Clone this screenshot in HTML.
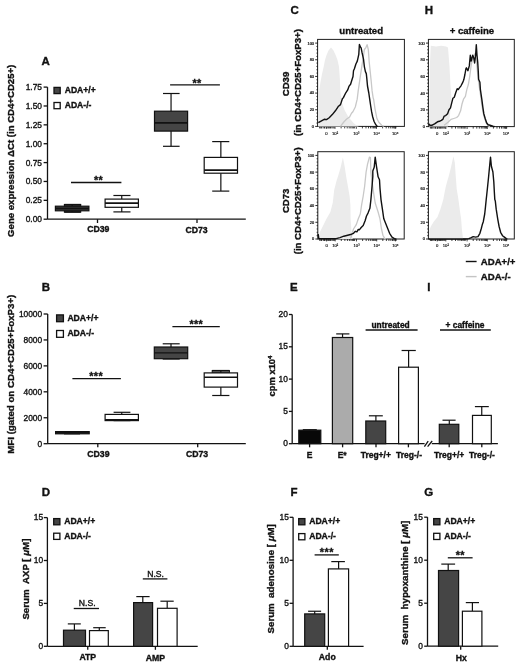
<!DOCTYPE html>
<html><head><meta charset="utf-8"><title>Figure</title>
<style>
html,body{margin:0;padding:0;background:#fff;}
svg{display:block;filter:blur(0.3px);}
text{font-family:"Liberation Sans", sans-serif;white-space:pre;}
</style></head>
<body>
<svg width="520" height="666" viewBox="0 0 520 666">
<rect x="0" y="0" width="520" height="666" fill="#fff"/>
<text x="41.60" y="64.80" font-size="11.5" font-weight="bold" text-anchor="start" fill="#111" stroke="#111" stroke-width="0.35">A</text>
<line x1="47.50" y1="87.10" x2="47.50" y2="219.20" stroke="#121212" stroke-width="1.3"/>
<line x1="43.60" y1="219.20" x2="47.50" y2="219.20" stroke="#121212" stroke-width="1.3"/>
<text x="42.00" y="222.20" font-size="8.4" font-weight="normal" text-anchor="end" fill="#111" stroke="#111" stroke-width="0.35">0.00</text>
<line x1="43.60" y1="200.33" x2="47.50" y2="200.33" stroke="#121212" stroke-width="1.3"/>
<text x="42.00" y="203.33" font-size="8.4" font-weight="normal" text-anchor="end" fill="#111" stroke="#111" stroke-width="0.35">0.25</text>
<line x1="43.60" y1="181.46" x2="47.50" y2="181.46" stroke="#121212" stroke-width="1.3"/>
<text x="42.00" y="184.46" font-size="8.4" font-weight="normal" text-anchor="end" fill="#111" stroke="#111" stroke-width="0.35">0.50</text>
<line x1="43.60" y1="162.59" x2="47.50" y2="162.59" stroke="#121212" stroke-width="1.3"/>
<text x="42.00" y="165.59" font-size="8.4" font-weight="normal" text-anchor="end" fill="#111" stroke="#111" stroke-width="0.35">0.75</text>
<line x1="43.60" y1="143.72" x2="47.50" y2="143.72" stroke="#121212" stroke-width="1.3"/>
<text x="42.00" y="146.72" font-size="8.4" font-weight="normal" text-anchor="end" fill="#111" stroke="#111" stroke-width="0.35">1.00</text>
<line x1="43.60" y1="124.85" x2="47.50" y2="124.85" stroke="#121212" stroke-width="1.3"/>
<text x="42.00" y="127.85" font-size="8.4" font-weight="normal" text-anchor="end" fill="#111" stroke="#111" stroke-width="0.35">1.25</text>
<line x1="43.60" y1="105.98" x2="47.50" y2="105.98" stroke="#121212" stroke-width="1.3"/>
<text x="42.00" y="108.98" font-size="8.4" font-weight="normal" text-anchor="end" fill="#111" stroke="#111" stroke-width="0.35">1.50</text>
<line x1="43.60" y1="87.11" x2="47.50" y2="87.11" stroke="#121212" stroke-width="1.3"/>
<text x="42.00" y="90.11" font-size="8.4" font-weight="normal" text-anchor="end" fill="#111" stroke="#111" stroke-width="0.35">1.75</text>
<line x1="47.50" y1="219.20" x2="245.80" y2="219.20" stroke="#121212" stroke-width="1.3"/>
<line x1="97.50" y1="219.20" x2="97.50" y2="223.00" stroke="#121212" stroke-width="1.3"/>
<line x1="197.00" y1="219.20" x2="197.00" y2="223.00" stroke="#121212" stroke-width="1.3"/>
<text x="98.30" y="232.30" font-size="8.7" font-weight="bold" text-anchor="middle" fill="#111" stroke="#111" stroke-width="0.35">CD39</text>
<text x="196.60" y="232.90" font-size="8.7" font-weight="bold" text-anchor="middle" fill="#111" stroke="#111" stroke-width="0.35">CD73</text>
<rect x="54.00" y="87.40" width="6.20" height="6.20" fill="#454545" stroke="#111" stroke-width="1.3"/>
<rect x="54.00" y="102.50" width="6.20" height="6.20" fill="#fff" stroke="#111" stroke-width="1.3"/>
<text x="64.70" y="92.60" font-size="8.6" font-weight="bold" text-anchor="start" fill="#111" stroke="#111" stroke-width="0.35">ADA+/+</text>
<text x="64.70" y="107.60" font-size="8.6" font-weight="bold" text-anchor="start" fill="#111" stroke="#111" stroke-width="0.35">ADA-/-</text>
<text x="13.80" y="150.80" font-size="9.6" font-weight="bold" text-anchor="middle" fill="#111" stroke="#111" stroke-width="0.35" transform="rotate(-90 13.80 150.80)">Gene expression ΔCt (in CD4+CD25+)</text>
<rect x="64.40" y="204.50" width="16.30" height="7.60" fill="#3a3a3a" stroke="#111" stroke-width="1.1"/>
<line x1="72.15" y1="204.50" x2="72.15" y2="206.20" stroke="#121212" stroke-width="1.2"/>
<line x1="72.15" y1="210.80" x2="72.15" y2="212.10" stroke="#121212" stroke-width="1.2"/>
<line x1="64.40" y1="204.50" x2="80.70" y2="204.50" stroke="#121212" stroke-width="1.2"/>
<line x1="64.40" y1="212.10" x2="80.70" y2="212.10" stroke="#121212" stroke-width="1.2"/>
<rect x="55.40" y="206.20" width="33.50" height="4.60" fill="#454545" stroke="#111" stroke-width="1.2"/>
<line x1="55.40" y1="208.50" x2="88.90" y2="208.50" stroke="#121212" stroke-width="1.8"/>
<line x1="121.75" y1="195.50" x2="121.75" y2="199.10" stroke="#121212" stroke-width="1.2"/>
<line x1="121.75" y1="207.30" x2="121.75" y2="211.90" stroke="#121212" stroke-width="1.2"/>
<line x1="113.40" y1="195.50" x2="130.50" y2="195.50" stroke="#121212" stroke-width="1.2"/>
<line x1="113.40" y1="211.90" x2="130.50" y2="211.90" stroke="#121212" stroke-width="1.2"/>
<rect x="105.10" y="199.10" width="33.30" height="8.20" fill="#fff" stroke="#111" stroke-width="1.2"/>
<line x1="105.10" y1="203.10" x2="138.40" y2="203.10" stroke="#121212" stroke-width="1.8"/>
<line x1="171.05" y1="93.50" x2="171.05" y2="111.20" stroke="#121212" stroke-width="1.2"/>
<line x1="171.05" y1="131.10" x2="171.05" y2="146.30" stroke="#121212" stroke-width="1.2"/>
<line x1="163.00" y1="93.50" x2="179.60" y2="93.50" stroke="#121212" stroke-width="1.2"/>
<line x1="163.00" y1="146.30" x2="179.60" y2="146.30" stroke="#121212" stroke-width="1.2"/>
<rect x="154.50" y="111.20" width="33.10" height="19.90" fill="#454545" stroke="#111" stroke-width="1.2"/>
<line x1="154.50" y1="122.90" x2="187.60" y2="122.90" stroke="#121212" stroke-width="1.8"/>
<line x1="220.85" y1="141.60" x2="220.85" y2="157.40" stroke="#121212" stroke-width="1.2"/>
<line x1="220.85" y1="173.20" x2="220.85" y2="191.10" stroke="#121212" stroke-width="1.2"/>
<line x1="212.20" y1="141.60" x2="229.30" y2="141.60" stroke="#121212" stroke-width="1.2"/>
<line x1="212.20" y1="191.10" x2="229.30" y2="191.10" stroke="#121212" stroke-width="1.2"/>
<rect x="204.20" y="157.40" width="33.30" height="15.80" fill="#fff" stroke="#111" stroke-width="1.2"/>
<line x1="204.20" y1="170.10" x2="237.50" y2="170.10" stroke="#121212" stroke-width="1.8"/>
<line x1="71.00" y1="182.50" x2="121.40" y2="182.50" stroke="#121212" stroke-width="1.3"/>
<text x="96.10" y="184.41" font-size="10.8" font-weight="bold" text-anchor="middle" fill="#111" stroke="#111" stroke-width="0.35">*</text>
<text x="100.60" y="184.41" font-size="10.8" font-weight="bold" text-anchor="middle" fill="#111" stroke="#111" stroke-width="0.35">*</text>
<line x1="170.10" y1="84.80" x2="219.90" y2="84.80" stroke="#121212" stroke-width="1.3"/>
<text x="194.70" y="86.51" font-size="10.8" font-weight="bold" text-anchor="middle" fill="#111" stroke="#111" stroke-width="0.35">*</text>
<text x="199.10" y="86.51" font-size="10.8" font-weight="bold" text-anchor="middle" fill="#111" stroke="#111" stroke-width="0.35">*</text>
<text x="41.80" y="290.90" font-size="11.5" font-weight="bold" text-anchor="start" fill="#111" stroke="#111" stroke-width="0.35">B</text>
<line x1="47.70" y1="314.00" x2="47.70" y2="443.70" stroke="#121212" stroke-width="1.3"/>
<line x1="43.60" y1="443.70" x2="47.70" y2="443.70" stroke="#121212" stroke-width="1.3"/>
<text x="42.20" y="446.70" font-size="8.4" font-weight="normal" text-anchor="end" fill="#111" stroke="#111" stroke-width="0.35">0</text>
<line x1="43.60" y1="417.76" x2="47.70" y2="417.76" stroke="#121212" stroke-width="1.3"/>
<text x="42.20" y="420.76" font-size="8.4" font-weight="normal" text-anchor="end" fill="#111" stroke="#111" stroke-width="0.35">2000</text>
<line x1="43.60" y1="391.82" x2="47.70" y2="391.82" stroke="#121212" stroke-width="1.3"/>
<text x="42.20" y="394.82" font-size="8.4" font-weight="normal" text-anchor="end" fill="#111" stroke="#111" stroke-width="0.35">4000</text>
<line x1="43.60" y1="365.88" x2="47.70" y2="365.88" stroke="#121212" stroke-width="1.3"/>
<text x="42.20" y="368.88" font-size="8.4" font-weight="normal" text-anchor="end" fill="#111" stroke="#111" stroke-width="0.35">6000</text>
<line x1="43.60" y1="339.94" x2="47.70" y2="339.94" stroke="#121212" stroke-width="1.3"/>
<text x="42.20" y="342.94" font-size="8.4" font-weight="normal" text-anchor="end" fill="#111" stroke="#111" stroke-width="0.35">8000</text>
<line x1="43.60" y1="314.00" x2="47.70" y2="314.00" stroke="#121212" stroke-width="1.3"/>
<text x="42.20" y="317.00" font-size="8.4" font-weight="normal" text-anchor="end" fill="#111" stroke="#111" stroke-width="0.35">10000</text>
<line x1="47.70" y1="443.70" x2="245.80" y2="443.70" stroke="#121212" stroke-width="1.3"/>
<line x1="97.80" y1="443.70" x2="97.80" y2="447.30" stroke="#121212" stroke-width="1.3"/>
<line x1="197.70" y1="443.70" x2="197.70" y2="447.30" stroke="#121212" stroke-width="1.3"/>
<text x="98.40" y="456.80" font-size="8.7" font-weight="bold" text-anchor="middle" fill="#111" stroke="#111" stroke-width="0.35">CD39</text>
<text x="197.00" y="456.70" font-size="8.7" font-weight="bold" text-anchor="middle" fill="#111" stroke="#111" stroke-width="0.35">CD73</text>
<rect x="56.60" y="314.90" width="6.80" height="6.80" fill="#454545" stroke="#111" stroke-width="1.3"/>
<rect x="56.60" y="330.50" width="6.80" height="6.80" fill="#fff" stroke="#111" stroke-width="1.3"/>
<text x="67.40" y="320.60" font-size="8.6" font-weight="bold" text-anchor="start" fill="#111" stroke="#111" stroke-width="0.35">ADA+/+</text>
<text x="67.40" y="336.00" font-size="8.6" font-weight="bold" text-anchor="start" fill="#111" stroke="#111" stroke-width="0.35">ADA-/-</text>
<text x="13.60" y="374.20" font-size="9.7" font-weight="bold" text-anchor="middle" fill="#111" stroke="#111" stroke-width="0.35" transform="rotate(-90 13.60 374.20)">MFI (gated on CD4+CD25+FoxP3+)</text>
<line x1="72.40" y1="431.60" x2="72.40" y2="431.60" stroke="#121212" stroke-width="1.2"/>
<line x1="72.40" y1="433.80" x2="72.40" y2="433.80" stroke="#121212" stroke-width="1.2"/>
<line x1="64.00" y1="431.60" x2="80.00" y2="431.60" stroke="#121212" stroke-width="1.2"/>
<line x1="64.00" y1="433.80" x2="80.00" y2="433.80" stroke="#121212" stroke-width="1.2"/>
<rect x="55.60" y="431.60" width="33.60" height="2.20" fill="#454545" stroke="#111" stroke-width="1.2"/>
<line x1="55.60" y1="432.70" x2="89.20" y2="432.70" stroke="#121212" stroke-width="1.8"/>
<line x1="121.75" y1="412.30" x2="121.75" y2="414.40" stroke="#121212" stroke-width="1.2"/>
<line x1="121.75" y1="420.60" x2="121.75" y2="420.60" stroke="#121212" stroke-width="1.2"/>
<line x1="113.60" y1="412.30" x2="130.40" y2="412.30" stroke="#121212" stroke-width="1.2"/>
<line x1="113.60" y1="420.60" x2="130.40" y2="420.60" stroke="#121212" stroke-width="1.2"/>
<rect x="105.10" y="414.40" width="33.30" height="6.20" fill="#fff" stroke="#111" stroke-width="1.2"/>
<line x1="105.10" y1="420.00" x2="138.40" y2="420.00" stroke="#121212" stroke-width="1.8"/>
<line x1="171.00" y1="343.80" x2="171.00" y2="347.00" stroke="#121212" stroke-width="1.2"/>
<line x1="171.00" y1="358.70" x2="171.00" y2="359.00" stroke="#121212" stroke-width="1.2"/>
<line x1="162.70" y1="343.80" x2="179.70" y2="343.80" stroke="#121212" stroke-width="1.2"/>
<line x1="162.70" y1="359.00" x2="179.70" y2="359.00" stroke="#121212" stroke-width="1.2"/>
<rect x="154.30" y="347.00" width="33.40" height="11.70" fill="#454545" stroke="#111" stroke-width="1.2"/>
<line x1="154.30" y1="352.80" x2="187.70" y2="352.80" stroke="#121212" stroke-width="1.2"/>
<rect x="212.20" y="370.60" width="17.20" height="2.40" fill="#666" stroke="#111" stroke-width="1.0"/>
<line x1="220.85" y1="370.50" x2="220.85" y2="372.90" stroke="#121212" stroke-width="1.2"/>
<line x1="220.85" y1="387.10" x2="220.85" y2="395.50" stroke="#121212" stroke-width="1.2"/>
<line x1="212.20" y1="370.50" x2="229.40" y2="370.50" stroke="#121212" stroke-width="1.2"/>
<line x1="212.20" y1="395.50" x2="229.40" y2="395.50" stroke="#121212" stroke-width="1.2"/>
<rect x="204.20" y="372.90" width="33.30" height="14.20" fill="#fff" stroke="#111" stroke-width="1.2"/>
<line x1="204.20" y1="377.30" x2="237.50" y2="377.30" stroke="#121212" stroke-width="1.4"/>
<line x1="72.40" y1="378.70" x2="120.90" y2="378.70" stroke="#121212" stroke-width="1.3"/>
<text x="91.30" y="380.41" font-size="10.8" font-weight="bold" text-anchor="middle" fill="#111" stroke="#111" stroke-width="0.35">*</text>
<text x="95.90" y="380.41" font-size="10.8" font-weight="bold" text-anchor="middle" fill="#111" stroke="#111" stroke-width="0.35">*</text>
<text x="100.50" y="380.41" font-size="10.8" font-weight="bold" text-anchor="middle" fill="#111" stroke="#111" stroke-width="0.35">*</text>
<line x1="172.40" y1="326.70" x2="219.80" y2="326.70" stroke="#121212" stroke-width="1.3"/>
<text x="191.60" y="327.51" font-size="10.8" font-weight="bold" text-anchor="middle" fill="#111" stroke="#111" stroke-width="0.35">*</text>
<text x="196.10" y="327.51" font-size="10.8" font-weight="bold" text-anchor="middle" fill="#111" stroke="#111" stroke-width="0.35">*</text>
<text x="200.60" y="327.51" font-size="10.8" font-weight="bold" text-anchor="middle" fill="#111" stroke="#111" stroke-width="0.35">*</text>
<text x="41.80" y="496.00" font-size="11.5" font-weight="bold" text-anchor="start" fill="#111" stroke="#111" stroke-width="0.35">D</text>
<line x1="47.40" y1="517.60" x2="47.40" y2="646.30" stroke="#121212" stroke-width="1.3"/>
<line x1="43.80" y1="646.30" x2="47.40" y2="646.30" stroke="#121212" stroke-width="1.3"/>
<text x="43.20" y="648.80" font-size="8.4" font-weight="normal" text-anchor="end" fill="#111" stroke="#111" stroke-width="0.35">0</text>
<line x1="43.80" y1="603.40" x2="47.40" y2="603.40" stroke="#121212" stroke-width="1.3"/>
<text x="43.20" y="605.90" font-size="8.4" font-weight="normal" text-anchor="end" fill="#111" stroke="#111" stroke-width="0.35">5</text>
<line x1="43.80" y1="560.50" x2="47.40" y2="560.50" stroke="#121212" stroke-width="1.3"/>
<text x="43.20" y="563.00" font-size="8.4" font-weight="normal" text-anchor="end" fill="#111" stroke="#111" stroke-width="0.35">10</text>
<line x1="43.80" y1="517.60" x2="47.40" y2="517.60" stroke="#121212" stroke-width="1.3"/>
<text x="43.20" y="520.10" font-size="8.4" font-weight="normal" text-anchor="end" fill="#111" stroke="#111" stroke-width="0.35">15</text>
<line x1="47.40" y1="646.30" x2="197.70" y2="646.30" stroke="#121212" stroke-width="1.3"/>
<line x1="87.75" y1="646.30" x2="87.75" y2="649.80" stroke="#121212" stroke-width="1.3"/>
<line x1="155.40" y1="646.30" x2="155.40" y2="649.80" stroke="#121212" stroke-width="1.3"/>
<text x="87.80" y="660.20" font-size="8.7" font-weight="bold" text-anchor="middle" fill="#111" stroke="#111" stroke-width="0.35">ATP</text>
<text x="155.50" y="660.50" font-size="8.7" font-weight="bold" text-anchor="middle" fill="#111" stroke="#111" stroke-width="0.35">AMP</text>
<rect x="53.70" y="518.60" width="6.20" height="6.20" fill="#454545" stroke="#111" stroke-width="1.3"/>
<rect x="53.70" y="533.20" width="6.20" height="6.20" fill="#fff" stroke="#111" stroke-width="1.3"/>
<text x="64.20" y="523.90" font-size="8.6" font-weight="bold" text-anchor="start" fill="#111" stroke="#111" stroke-width="0.35">ADA+/+</text>
<text x="64.20" y="538.90" font-size="8.6" font-weight="bold" text-anchor="start" fill="#111" stroke="#111" stroke-width="0.35">ADA-/-</text>
<text x="28.80" y="579.10" font-size="9.7" font-weight="bold" text-anchor="middle" fill="#111" stroke="#111" stroke-width="0.35" transform="rotate(-90 28.80 579.10)">Serum  AXP [ <tspan font-style="italic">μ</tspan>M]</text>
<line x1="74.40" y1="623.90" x2="74.40" y2="630.20" stroke="#121212" stroke-width="1.2"/>
<line x1="67.80" y1="623.90" x2="80.80" y2="623.90" stroke="#121212" stroke-width="1.2"/>
<rect x="63.50" y="630.20" width="22.00" height="16.10" fill="#454545" stroke="#111" stroke-width="1.2"/>
<line x1="99.30" y1="627.70" x2="99.30" y2="630.60" stroke="#121212" stroke-width="1.2"/>
<line x1="93.20" y1="627.70" x2="105.70" y2="627.70" stroke="#121212" stroke-width="1.2"/>
<rect x="89.50" y="630.60" width="18.80" height="15.70" fill="#fff" stroke="#111" stroke-width="1.2"/>
<line x1="142.80" y1="596.60" x2="142.80" y2="602.60" stroke="#121212" stroke-width="1.2"/>
<line x1="136.30" y1="596.60" x2="149.60" y2="596.60" stroke="#121212" stroke-width="1.2"/>
<rect x="133.60" y="602.60" width="19.00" height="43.70" fill="#454545" stroke="#111" stroke-width="1.2"/>
<line x1="167.20" y1="601.20" x2="167.20" y2="608.30" stroke="#121212" stroke-width="1.2"/>
<line x1="160.40" y1="601.20" x2="173.70" y2="601.20" stroke="#121212" stroke-width="1.2"/>
<rect x="157.50" y="608.30" width="19.60" height="38.00" fill="#fff" stroke="#111" stroke-width="1.2"/>
<line x1="73.75" y1="608.50" x2="99.00" y2="608.50" stroke="#121212" stroke-width="1.3"/>
<text x="87.20" y="606.30" font-size="8.6" font-weight="normal" text-anchor="middle" fill="#111" stroke="#111" stroke-width="0.35">N.S.</text>
<line x1="142.80" y1="578.90" x2="167.40" y2="578.90" stroke="#121212" stroke-width="1.3"/>
<text x="155.60" y="576.60" font-size="8.6" font-weight="normal" text-anchor="middle" fill="#111" stroke="#111" stroke-width="0.35">N.S.</text>
<text x="290.40" y="496.10" font-size="11.5" font-weight="bold" text-anchor="start" fill="#111" stroke="#111" stroke-width="0.35">F</text>
<line x1="293.10" y1="517.20" x2="293.10" y2="646.30" stroke="#121212" stroke-width="1.3"/>
<line x1="289.60" y1="646.30" x2="293.10" y2="646.30" stroke="#121212" stroke-width="1.3"/>
<text x="288.80" y="648.80" font-size="8.4" font-weight="normal" text-anchor="end" fill="#111" stroke="#111" stroke-width="0.35">0</text>
<line x1="289.60" y1="603.30" x2="293.10" y2="603.30" stroke="#121212" stroke-width="1.3"/>
<text x="288.80" y="605.80" font-size="8.4" font-weight="normal" text-anchor="end" fill="#111" stroke="#111" stroke-width="0.35">5</text>
<line x1="289.60" y1="560.30" x2="293.10" y2="560.30" stroke="#121212" stroke-width="1.3"/>
<text x="288.80" y="562.80" font-size="8.4" font-weight="normal" text-anchor="end" fill="#111" stroke="#111" stroke-width="0.35">10</text>
<line x1="289.60" y1="517.30" x2="293.10" y2="517.30" stroke="#121212" stroke-width="1.3"/>
<text x="288.80" y="519.80" font-size="8.4" font-weight="normal" text-anchor="end" fill="#111" stroke="#111" stroke-width="0.35">15</text>
<line x1="293.10" y1="646.30" x2="363.60" y2="646.30" stroke="#121212" stroke-width="1.3"/>
<line x1="327.30" y1="646.30" x2="327.30" y2="649.80" stroke="#121212" stroke-width="1.3"/>
<text x="327.30" y="660.30" font-size="8.7" font-weight="bold" text-anchor="middle" fill="#111" stroke="#111" stroke-width="0.35">Ado</text>
<rect x="298.70" y="518.60" width="6.20" height="6.20" fill="#454545" stroke="#111" stroke-width="1.3"/>
<rect x="298.70" y="533.60" width="6.20" height="6.20" fill="#fff" stroke="#111" stroke-width="1.3"/>
<text x="309.20" y="524.00" font-size="8.6" font-weight="bold" text-anchor="start" fill="#111" stroke="#111" stroke-width="0.35">ADA+/+</text>
<text x="309.20" y="538.90" font-size="8.6" font-weight="bold" text-anchor="start" fill="#111" stroke="#111" stroke-width="0.35">ADA-/-</text>
<text x="273.60" y="578.80" font-size="9.7" font-weight="bold" text-anchor="middle" fill="#111" stroke="#111" stroke-width="0.35" transform="rotate(-90 273.60 578.80)">Serum  adenosine [ <tspan font-style="italic">μ</tspan>M]</text>
<line x1="314.70" y1="611.25" x2="314.70" y2="613.90" stroke="#121212" stroke-width="1.2"/>
<line x1="308.10" y1="611.25" x2="321.10" y2="611.25" stroke="#121212" stroke-width="1.2"/>
<rect x="304.70" y="613.90" width="20.00" height="32.40" fill="#454545" stroke="#111" stroke-width="1.2"/>
<line x1="338.60" y1="561.60" x2="338.60" y2="568.90" stroke="#121212" stroke-width="1.2"/>
<line x1="331.30" y1="561.60" x2="344.90" y2="561.60" stroke="#121212" stroke-width="1.2"/>
<rect x="328.40" y="568.90" width="20.20" height="77.40" fill="#fff" stroke="#111" stroke-width="1.2"/>
<line x1="314.60" y1="554.90" x2="338.80" y2="554.90" stroke="#121212" stroke-width="1.3"/>
<text x="321.80" y="556.11" font-size="10.8" font-weight="bold" text-anchor="middle" fill="#111" stroke="#111" stroke-width="0.35">*</text>
<text x="326.50" y="556.11" font-size="10.8" font-weight="bold" text-anchor="middle" fill="#111" stroke="#111" stroke-width="0.35">*</text>
<text x="331.30" y="556.11" font-size="10.8" font-weight="bold" text-anchor="middle" fill="#111" stroke="#111" stroke-width="0.35">*</text>
<text x="424.20" y="496.40" font-size="11.5" font-weight="bold" text-anchor="start" fill="#111" stroke="#111" stroke-width="0.35">G</text>
<line x1="427.50" y1="517.10" x2="427.50" y2="646.20" stroke="#121212" stroke-width="1.3"/>
<line x1="424.20" y1="646.20" x2="427.50" y2="646.20" stroke="#121212" stroke-width="1.3"/>
<text x="422.90" y="648.70" font-size="8.4" font-weight="normal" text-anchor="end" fill="#111" stroke="#111" stroke-width="0.35">0</text>
<line x1="424.20" y1="603.20" x2="427.50" y2="603.20" stroke="#121212" stroke-width="1.3"/>
<text x="422.90" y="605.70" font-size="8.4" font-weight="normal" text-anchor="end" fill="#111" stroke="#111" stroke-width="0.35">5</text>
<line x1="424.20" y1="560.20" x2="427.50" y2="560.20" stroke="#121212" stroke-width="1.3"/>
<text x="422.90" y="562.70" font-size="8.4" font-weight="normal" text-anchor="end" fill="#111" stroke="#111" stroke-width="0.35">10</text>
<line x1="424.20" y1="517.20" x2="427.50" y2="517.20" stroke="#121212" stroke-width="1.3"/>
<text x="422.90" y="519.70" font-size="8.4" font-weight="normal" text-anchor="end" fill="#111" stroke="#111" stroke-width="0.35">15</text>
<line x1="427.50" y1="646.20" x2="498.20" y2="646.20" stroke="#121212" stroke-width="1.3"/>
<line x1="460.70" y1="646.20" x2="460.70" y2="649.80" stroke="#121212" stroke-width="1.3"/>
<text x="461.30" y="660.50" font-size="8.7" font-weight="bold" text-anchor="middle" fill="#111" stroke="#111" stroke-width="0.35">Hx</text>
<rect x="433.70" y="518.60" width="6.20" height="6.20" fill="#454545" stroke="#111" stroke-width="1.3"/>
<rect x="433.70" y="533.30" width="6.20" height="6.20" fill="#fff" stroke="#111" stroke-width="1.3"/>
<text x="444.20" y="523.90" font-size="8.6" font-weight="bold" text-anchor="start" fill="#111" stroke="#111" stroke-width="0.35">ADA+/+</text>
<text x="444.20" y="538.90" font-size="8.6" font-weight="bold" text-anchor="start" fill="#111" stroke="#111" stroke-width="0.35">ADA-/-</text>
<text x="408.30" y="582.80" font-size="9.7" font-weight="bold" text-anchor="middle" fill="#111" stroke="#111" stroke-width="0.35" transform="rotate(-90 408.30 582.80)">Serum  hypoxanthine [ <tspan font-style="italic">μ</tspan>M]</text>
<line x1="448.20" y1="564.10" x2="448.20" y2="570.50" stroke="#121212" stroke-width="1.2"/>
<line x1="441.30" y1="564.10" x2="455.10" y2="564.10" stroke="#121212" stroke-width="1.2"/>
<rect x="438.50" y="570.50" width="20.10" height="75.70" fill="#454545" stroke="#111" stroke-width="1.2"/>
<line x1="472.40" y1="602.60" x2="472.40" y2="611.20" stroke="#121212" stroke-width="1.2"/>
<line x1="465.80" y1="602.60" x2="479.00" y2="602.60" stroke="#121212" stroke-width="1.2"/>
<rect x="462.40" y="611.20" width="19.50" height="35.00" fill="#fff" stroke="#111" stroke-width="1.2"/>
<line x1="447.80" y1="557.80" x2="472.60" y2="557.80" stroke="#121212" stroke-width="1.3"/>
<text x="457.80" y="559.01" font-size="10.8" font-weight="bold" text-anchor="middle" fill="#111" stroke="#111" stroke-width="0.35">*</text>
<text x="462.30" y="559.01" font-size="10.8" font-weight="bold" text-anchor="middle" fill="#111" stroke="#111" stroke-width="0.35">*</text>
<text x="290.00" y="291.40" font-size="11.5" font-weight="bold" text-anchor="start" fill="#111" stroke="#111" stroke-width="0.35">E</text>
<text x="427.30" y="291.20" font-size="11.5" font-weight="bold" text-anchor="start" fill="#111" stroke="#111" stroke-width="0.35">I</text>
<line x1="292.20" y1="314.50" x2="292.20" y2="443.70" stroke="#121212" stroke-width="1.3"/>
<line x1="288.90" y1="443.70" x2="292.20" y2="443.70" stroke="#121212" stroke-width="1.3"/>
<text x="287.80" y="446.30" font-size="8.4" font-weight="normal" text-anchor="end" fill="#111" stroke="#111" stroke-width="0.35">0</text>
<line x1="288.90" y1="411.40" x2="292.20" y2="411.40" stroke="#121212" stroke-width="1.3"/>
<text x="287.80" y="414.00" font-size="8.4" font-weight="normal" text-anchor="end" fill="#111" stroke="#111" stroke-width="0.35">5</text>
<line x1="288.90" y1="379.10" x2="292.20" y2="379.10" stroke="#121212" stroke-width="1.3"/>
<text x="287.80" y="381.70" font-size="8.4" font-weight="normal" text-anchor="end" fill="#111" stroke="#111" stroke-width="0.35">10</text>
<line x1="288.90" y1="346.80" x2="292.20" y2="346.80" stroke="#121212" stroke-width="1.3"/>
<text x="287.80" y="349.40" font-size="8.4" font-weight="normal" text-anchor="end" fill="#111" stroke="#111" stroke-width="0.35">15</text>
<line x1="288.90" y1="314.50" x2="292.20" y2="314.50" stroke="#121212" stroke-width="1.3"/>
<text x="287.80" y="317.10" font-size="8.4" font-weight="normal" text-anchor="end" fill="#111" stroke="#111" stroke-width="0.35">20</text>
<line x1="292.20" y1="443.70" x2="424.60" y2="443.70" stroke="#121212" stroke-width="1.3"/>
<line x1="431.80" y1="443.70" x2="497.90" y2="443.70" stroke="#121212" stroke-width="1.3"/>
<line x1="424.40" y1="446.60" x2="428.20" y2="441.20" stroke="#121212" stroke-width="1.3"/>
<line x1="427.60" y1="446.60" x2="432.20" y2="441.00" stroke="#121212" stroke-width="1.3"/>
<line x1="309.60" y1="443.70" x2="309.60" y2="447.30" stroke="#121212" stroke-width="1.3"/>
<line x1="342.60" y1="443.70" x2="342.60" y2="447.30" stroke="#121212" stroke-width="1.3"/>
<line x1="376.00" y1="443.70" x2="376.00" y2="447.30" stroke="#121212" stroke-width="1.3"/>
<line x1="408.40" y1="443.70" x2="408.40" y2="447.30" stroke="#121212" stroke-width="1.3"/>
<line x1="449.20" y1="443.70" x2="449.20" y2="447.30" stroke="#121212" stroke-width="1.3"/>
<line x1="481.80" y1="443.70" x2="481.80" y2="447.30" stroke="#121212" stroke-width="1.3"/>
<text x="309.60" y="458.30" font-size="8.5" font-weight="bold" text-anchor="middle" fill="#111" stroke="#111" stroke-width="0.35">E</text>
<text x="342.20" y="458.30" font-size="8.5" font-weight="bold" text-anchor="middle" fill="#111" stroke="#111" stroke-width="0.35">E*</text>
<text x="375.80" y="458.30" font-size="8.5" font-weight="bold" text-anchor="middle" fill="#111" stroke="#111" stroke-width="0.35">Treg+/+</text>
<text x="409.00" y="458.30" font-size="8.5" font-weight="bold" text-anchor="middle" fill="#111" stroke="#111" stroke-width="0.35">Treg-/-</text>
<text x="449.20" y="458.30" font-size="8.5" font-weight="bold" text-anchor="middle" fill="#111" stroke="#111" stroke-width="0.35">Treg+/+</text>
<text x="481.90" y="458.30" font-size="8.5" font-weight="bold" text-anchor="middle" fill="#111" stroke="#111" stroke-width="0.35">Treg-/-</text>
<line x1="309.80" y1="429.70" x2="309.80" y2="430.20" stroke="#121212" stroke-width="1.2"/>
<line x1="302.80" y1="429.70" x2="316.80" y2="429.70" stroke="#121212" stroke-width="1.2"/>
<rect x="298.80" y="430.20" width="22.00" height="13.50" fill="#080808" stroke="#111" stroke-width="1.2"/>
<line x1="342.55" y1="333.90" x2="342.55" y2="337.50" stroke="#121212" stroke-width="1.2"/>
<line x1="336.20" y1="333.90" x2="349.40" y2="333.90" stroke="#121212" stroke-width="1.2"/>
<rect x="332.40" y="337.50" width="20.30" height="106.20" fill="#ababab" stroke="#111" stroke-width="1.2"/>
<line x1="375.90" y1="415.80" x2="375.90" y2="421.00" stroke="#121212" stroke-width="1.2"/>
<line x1="368.90" y1="415.80" x2="382.80" y2="415.80" stroke="#121212" stroke-width="1.2"/>
<rect x="365.80" y="421.00" width="19.90" height="22.70" fill="#454545" stroke="#111" stroke-width="1.2"/>
<line x1="408.60" y1="350.50" x2="408.60" y2="367.20" stroke="#121212" stroke-width="1.2"/>
<line x1="401.60" y1="350.50" x2="415.80" y2="350.50" stroke="#121212" stroke-width="1.2"/>
<rect x="398.60" y="367.20" width="19.80" height="76.50" fill="#fff" stroke="#111" stroke-width="1.2"/>
<line x1="449.30" y1="420.20" x2="449.30" y2="424.30" stroke="#121212" stroke-width="1.2"/>
<line x1="442.50" y1="420.20" x2="455.60" y2="420.20" stroke="#121212" stroke-width="1.2"/>
<rect x="439.30" y="424.30" width="19.50" height="19.40" fill="#454545" stroke="#111" stroke-width="1.2"/>
<line x1="481.75" y1="406.60" x2="481.75" y2="415.40" stroke="#121212" stroke-width="1.2"/>
<line x1="474.90" y1="406.60" x2="488.80" y2="406.60" stroke="#121212" stroke-width="1.2"/>
<rect x="472.50" y="415.40" width="18.80" height="28.30" fill="#fff" stroke="#111" stroke-width="1.2"/>
<text x="390.60" y="327.50" font-size="8.4" font-weight="bold" text-anchor="middle" fill="#111" stroke="#111" stroke-width="0.35">untreated</text>
<line x1="365.60" y1="330.00" x2="417.60" y2="330.00" stroke="#121212" stroke-width="1.3"/>
<text x="465.00" y="327.50" font-size="8.4" font-weight="bold" text-anchor="middle" fill="#111" stroke="#111" stroke-width="0.35">+ caffeine</text>
<line x1="440.00" y1="330.00" x2="490.80" y2="330.00" stroke="#121212" stroke-width="1.3"/>
<text x="274.60" y="376.00" font-size="9.4" font-weight="bold" text-anchor="middle" fill="#111" stroke="#111" stroke-width="0.35" transform="rotate(-90 274.60 376.00)">cpm x10<tspan font-size="6.0" dy="-3.0">4</tspan></text>
<text x="290.60" y="14.30" font-size="11.5" font-weight="bold" text-anchor="start" fill="#111" stroke="#111" stroke-width="0.35">C</text>
<text x="424.80" y="13.90" font-size="11.5" font-weight="bold" text-anchor="start" fill="#111" stroke="#111" stroke-width="0.35">H</text>
<text x="361.20" y="33.60" font-size="9.6" font-weight="bold" text-anchor="middle" fill="#111" stroke="#111" stroke-width="0.35">untreated</text>
<text x="471.90" y="33.60" font-size="9.6" font-weight="bold" text-anchor="middle" fill="#111" stroke="#111" stroke-width="0.35">+ caffeine</text>
<text x="289.20" y="84.00" font-size="9.6" font-weight="bold" text-anchor="middle" fill="#111" stroke="#111" stroke-width="0.35" transform="rotate(-90 289.20 84.00)">CD39</text>
<text x="300.90" y="82.60" font-size="9.6" font-weight="bold" text-anchor="middle" fill="#111" stroke="#111" stroke-width="0.35" transform="rotate(-90 300.90 82.60)">(in CD4+CD25+FoxP3+)</text>
<text x="289.20" y="200.80" font-size="9.6" font-weight="bold" text-anchor="middle" fill="#111" stroke="#111" stroke-width="0.35" transform="rotate(-90 289.20 200.80)">CD73</text>
<text x="300.90" y="200.80" font-size="9.6" font-weight="bold" text-anchor="middle" fill="#111" stroke="#111" stroke-width="0.35" transform="rotate(-90 300.90 200.80)">(in CD4+CD25+FoxP3+)</text>
<line x1="465.80" y1="261.50" x2="476.60" y2="261.50" stroke="#111" stroke-width="1.4"/>
<text x="480.80" y="264.80" font-size="9.6" font-weight="bold" text-anchor="start" fill="#111" stroke="#111" stroke-width="0.35">ADA+/+</text>
<line x1="465.80" y1="276.60" x2="476.60" y2="276.60" stroke="#c4c4c4" stroke-width="1.4"/>
<text x="480.80" y="279.80" font-size="9.6" font-weight="bold" text-anchor="start" fill="#111" stroke="#111" stroke-width="0.35">ADA-/-</text>
<rect x="317.60" y="39.40" width="86.80" height="87.00" fill="none" stroke="#1e1e1e" stroke-width="1.0"/>
<line x1="315.20" y1="126.40" x2="317.60" y2="126.40" stroke="#121212" stroke-width="0.9"/>
<text x="314.00" y="127.80" font-size="3.9" font-weight="normal" text-anchor="end" fill="#111" stroke="#111" stroke-width="0.2" transform="rotate(#333 314.00 127.80)">0</text>
<line x1="316.40" y1="123.07" x2="317.60" y2="123.07" stroke="#121212" stroke-width="0.8"/>
<line x1="316.40" y1="119.74" x2="317.60" y2="119.74" stroke="#121212" stroke-width="0.8"/>
<line x1="316.40" y1="116.40" x2="317.60" y2="116.40" stroke="#121212" stroke-width="0.8"/>
<line x1="316.40" y1="113.07" x2="317.60" y2="113.07" stroke="#121212" stroke-width="0.8"/>
<line x1="315.20" y1="109.74" x2="317.60" y2="109.74" stroke="#121212" stroke-width="0.9"/>
<text x="314.00" y="111.14" font-size="3.9" font-weight="normal" text-anchor="end" fill="#111" stroke="#111" stroke-width="0.2" transform="rotate(#333 314.00 111.14)">20</text>
<line x1="316.40" y1="106.41" x2="317.60" y2="106.41" stroke="#121212" stroke-width="0.8"/>
<line x1="316.40" y1="103.08" x2="317.60" y2="103.08" stroke="#121212" stroke-width="0.8"/>
<line x1="316.40" y1="99.74" x2="317.60" y2="99.74" stroke="#121212" stroke-width="0.8"/>
<line x1="316.40" y1="96.41" x2="317.60" y2="96.41" stroke="#121212" stroke-width="0.8"/>
<line x1="315.20" y1="93.08" x2="317.60" y2="93.08" stroke="#121212" stroke-width="0.9"/>
<text x="314.00" y="94.48" font-size="3.9" font-weight="normal" text-anchor="end" fill="#111" stroke="#111" stroke-width="0.2" transform="rotate(#333 314.00 94.48)">40</text>
<line x1="316.40" y1="89.75" x2="317.60" y2="89.75" stroke="#121212" stroke-width="0.8"/>
<line x1="316.40" y1="86.42" x2="317.60" y2="86.42" stroke="#121212" stroke-width="0.8"/>
<line x1="316.40" y1="83.08" x2="317.60" y2="83.08" stroke="#121212" stroke-width="0.8"/>
<line x1="316.40" y1="79.75" x2="317.60" y2="79.75" stroke="#121212" stroke-width="0.8"/>
<line x1="315.20" y1="76.42" x2="317.60" y2="76.42" stroke="#121212" stroke-width="0.9"/>
<text x="314.00" y="77.82" font-size="3.9" font-weight="normal" text-anchor="end" fill="#111" stroke="#111" stroke-width="0.2" transform="rotate(#333 314.00 77.82)">60</text>
<line x1="316.40" y1="73.09" x2="317.60" y2="73.09" stroke="#121212" stroke-width="0.8"/>
<line x1="316.40" y1="69.76" x2="317.60" y2="69.76" stroke="#121212" stroke-width="0.8"/>
<line x1="316.40" y1="66.42" x2="317.60" y2="66.42" stroke="#121212" stroke-width="0.8"/>
<line x1="316.40" y1="63.09" x2="317.60" y2="63.09" stroke="#121212" stroke-width="0.8"/>
<line x1="315.20" y1="59.76" x2="317.60" y2="59.76" stroke="#121212" stroke-width="0.9"/>
<text x="314.00" y="61.16" font-size="3.9" font-weight="normal" text-anchor="end" fill="#111" stroke="#111" stroke-width="0.2" transform="rotate(#333 314.00 61.16)">80</text>
<line x1="316.40" y1="56.43" x2="317.60" y2="56.43" stroke="#121212" stroke-width="0.8"/>
<line x1="316.40" y1="53.10" x2="317.60" y2="53.10" stroke="#121212" stroke-width="0.8"/>
<line x1="316.40" y1="49.76" x2="317.60" y2="49.76" stroke="#121212" stroke-width="0.8"/>
<line x1="316.40" y1="46.43" x2="317.60" y2="46.43" stroke="#121212" stroke-width="0.8"/>
<line x1="315.20" y1="43.10" x2="317.60" y2="43.10" stroke="#121212" stroke-width="0.9"/>
<text x="314.00" y="44.50" font-size="3.9" font-weight="normal" text-anchor="end" fill="#111" stroke="#111" stroke-width="0.2" transform="rotate(#333 314.00 44.50)">100</text>
<text x="326.40" y="134.80" font-size="4.2" font-weight="normal" text-anchor="middle" fill="#111" stroke="#111" stroke-width="0.15" transform="rotate(#333 326.40 134.80)">0</text>
<text x="335.00" y="134.80" font-size="4.2" font-weight="normal" text-anchor="middle" fill="#111" stroke="#111" stroke-width="0.15" transform="rotate(#333 335.00 134.80)">10²</text>
<text x="356.30" y="134.80" font-size="4.2" font-weight="normal" text-anchor="middle" fill="#111" stroke="#111" stroke-width="0.15" transform="rotate(#333 356.30 134.80)">10³</text>
<text x="376.50" y="134.80" font-size="4.2" font-weight="normal" text-anchor="middle" fill="#111" stroke="#111" stroke-width="0.15" transform="rotate(#333 376.50 134.80)">10⁴</text>
<text x="395.20" y="134.80" font-size="4.2" font-weight="normal" text-anchor="middle" fill="#111" stroke="#111" stroke-width="0.15" transform="rotate(#333 395.20 134.80)">10⁵</text>
<line x1="326.40" y1="126.40" x2="326.40" y2="128.80" stroke="#121212" stroke-width="0.8"/>
<line x1="335.00" y1="126.40" x2="335.00" y2="128.80" stroke="#121212" stroke-width="0.8"/>
<line x1="356.30" y1="126.40" x2="356.30" y2="128.80" stroke="#121212" stroke-width="0.8"/>
<line x1="376.50" y1="126.40" x2="376.50" y2="128.80" stroke="#121212" stroke-width="0.8"/>
<line x1="395.20" y1="126.40" x2="395.20" y2="128.80" stroke="#121212" stroke-width="0.8"/>
<line x1="320.81" y1="126.40" x2="320.81" y2="128.40" stroke="#121212" stroke-width="0.8"/>
<line x1="324.39" y1="126.40" x2="324.39" y2="128.40" stroke="#121212" stroke-width="0.8"/>
<line x1="326.92" y1="126.40" x2="326.92" y2="128.40" stroke="#121212" stroke-width="0.8"/>
<line x1="328.89" y1="126.40" x2="328.89" y2="128.40" stroke="#121212" stroke-width="0.8"/>
<line x1="330.50" y1="126.40" x2="330.50" y2="128.40" stroke="#121212" stroke-width="0.8"/>
<line x1="331.86" y1="126.40" x2="331.86" y2="128.40" stroke="#121212" stroke-width="0.8"/>
<line x1="333.03" y1="126.40" x2="333.03" y2="128.40" stroke="#121212" stroke-width="0.8"/>
<line x1="334.07" y1="126.40" x2="334.07" y2="128.40" stroke="#121212" stroke-width="0.8"/>
<line x1="341.11" y1="126.40" x2="341.11" y2="128.40" stroke="#121212" stroke-width="0.8"/>
<line x1="344.69" y1="126.40" x2="344.69" y2="128.40" stroke="#121212" stroke-width="0.8"/>
<line x1="347.22" y1="126.40" x2="347.22" y2="128.40" stroke="#121212" stroke-width="0.8"/>
<line x1="349.19" y1="126.40" x2="349.19" y2="128.40" stroke="#121212" stroke-width="0.8"/>
<line x1="350.80" y1="126.40" x2="350.80" y2="128.40" stroke="#121212" stroke-width="0.8"/>
<line x1="352.16" y1="126.40" x2="352.16" y2="128.40" stroke="#121212" stroke-width="0.8"/>
<line x1="353.33" y1="126.40" x2="353.33" y2="128.40" stroke="#121212" stroke-width="0.8"/>
<line x1="354.37" y1="126.40" x2="354.37" y2="128.40" stroke="#121212" stroke-width="0.8"/>
<line x1="362.41" y1="126.40" x2="362.41" y2="128.40" stroke="#121212" stroke-width="0.8"/>
<line x1="365.99" y1="126.40" x2="365.99" y2="128.40" stroke="#121212" stroke-width="0.8"/>
<line x1="368.52" y1="126.40" x2="368.52" y2="128.40" stroke="#121212" stroke-width="0.8"/>
<line x1="370.49" y1="126.40" x2="370.49" y2="128.40" stroke="#121212" stroke-width="0.8"/>
<line x1="372.10" y1="126.40" x2="372.10" y2="128.40" stroke="#121212" stroke-width="0.8"/>
<line x1="373.46" y1="126.40" x2="373.46" y2="128.40" stroke="#121212" stroke-width="0.8"/>
<line x1="374.63" y1="126.40" x2="374.63" y2="128.40" stroke="#121212" stroke-width="0.8"/>
<line x1="375.67" y1="126.40" x2="375.67" y2="128.40" stroke="#121212" stroke-width="0.8"/>
<line x1="382.61" y1="126.40" x2="382.61" y2="128.40" stroke="#121212" stroke-width="0.8"/>
<line x1="386.19" y1="126.40" x2="386.19" y2="128.40" stroke="#121212" stroke-width="0.8"/>
<line x1="388.72" y1="126.40" x2="388.72" y2="128.40" stroke="#121212" stroke-width="0.8"/>
<line x1="390.69" y1="126.40" x2="390.69" y2="128.40" stroke="#121212" stroke-width="0.8"/>
<line x1="392.30" y1="126.40" x2="392.30" y2="128.40" stroke="#121212" stroke-width="0.8"/>
<line x1="393.66" y1="126.40" x2="393.66" y2="128.40" stroke="#121212" stroke-width="0.8"/>
<line x1="394.83" y1="126.40" x2="394.83" y2="128.40" stroke="#121212" stroke-width="0.8"/>
<line x1="395.87" y1="126.40" x2="395.87" y2="128.40" stroke="#121212" stroke-width="0.8"/>
<line x1="319.60" y1="126.40" x2="319.60" y2="128.40" stroke="#121212" stroke-width="0.8"/>
<line x1="321.40" y1="126.40" x2="321.40" y2="128.40" stroke="#121212" stroke-width="0.8"/>
<line x1="323.10" y1="126.40" x2="323.10" y2="128.40" stroke="#121212" stroke-width="0.8"/>
<line x1="324.80" y1="126.40" x2="324.80" y2="128.40" stroke="#121212" stroke-width="0.8"/>
<line x1="328.10" y1="126.40" x2="328.10" y2="128.40" stroke="#121212" stroke-width="0.8"/>
<line x1="329.80" y1="126.40" x2="329.80" y2="128.40" stroke="#121212" stroke-width="0.8"/>
<polygon points="318.2,126.4 318.2,100.0 319.0,92.0 320.5,82.0 322.0,74.0 323.7,66.8 325.0,60.0 326.5,55.3 328.5,50.5 331.0,47.6 333.5,50.5 335.7,55.3 337.5,60.0 339.0,66.8 339.8,78.0 340.4,92.0 342.0,103.0 344.5,110.0 347.5,115.5 350.5,119.5 353.5,123.0 356.5,125.5 359.0,126.4" fill="#ebebeb" stroke="none"/>
<polyline points="340.5,126.4 343.8,122.0 346.7,119.0 349.6,117.0 351.5,113.3 352.9,111.7 355.3,107.0 357.2,99.2 358.2,90.9 359.6,81.3 361.0,71.6 362.5,62.0 364.4,49.5 365.9,47.6 367.1,44.7 368.3,49.5 369.2,62.0 370.2,71.6 371.2,81.3 372.1,90.9 373.1,97.6 373.6,99.2 375.0,108.8 376.9,118.5 378.8,122.3 381.7,125.2 383.7,126.4" fill="none" stroke="#c8c8c8" stroke-width="1.3" stroke-linejoin="round"/>
<polyline points="318.3,122.7 321.5,120.8 324.6,119.2 326.5,119.6 329.2,117.7 332.3,114.6 335.4,110.8 338.5,106.2 340.5,104.6 342.4,98.8 343.4,97.6 345.8,92.8 347.7,89.9 349.1,86.1 350.6,84.2 351.5,81.3 353.0,76.5 353.5,70.7 354.4,68.8 355.9,64.0 357.3,61.1 358.8,54.3 359.4,44.5 360.7,47.6 361.1,47.6 362.0,52.4 363.5,59.2 364.4,66.8 365.4,71.6 366.3,73.6 366.8,78.4 367.5,86.0 368.8,93.0 369.7,99.2 370.7,106.0 371.6,111.7 372.6,116.5 374.0,121.3 375.5,124.2 376.9,126.2 378.0,126.4" fill="none" stroke="#111" stroke-width="1.4" stroke-linejoin="round"/>
<rect x="317.80" y="151.70" width="86.40" height="87.30" fill="none" stroke="#1e1e1e" stroke-width="1.0"/>
<line x1="315.40" y1="239.00" x2="317.80" y2="239.00" stroke="#121212" stroke-width="0.9"/>
<text x="314.20" y="240.40" font-size="3.9" font-weight="normal" text-anchor="end" fill="#111" stroke="#111" stroke-width="0.2" transform="rotate(#333 314.20 240.40)">0</text>
<line x1="316.60" y1="235.66" x2="317.80" y2="235.66" stroke="#121212" stroke-width="0.8"/>
<line x1="316.60" y1="232.31" x2="317.80" y2="232.31" stroke="#121212" stroke-width="0.8"/>
<line x1="316.60" y1="228.97" x2="317.80" y2="228.97" stroke="#121212" stroke-width="0.8"/>
<line x1="316.60" y1="225.62" x2="317.80" y2="225.62" stroke="#121212" stroke-width="0.8"/>
<line x1="315.40" y1="222.28" x2="317.80" y2="222.28" stroke="#121212" stroke-width="0.9"/>
<text x="314.20" y="223.68" font-size="3.9" font-weight="normal" text-anchor="end" fill="#111" stroke="#111" stroke-width="0.2" transform="rotate(#333 314.20 223.68)">20</text>
<line x1="316.60" y1="218.94" x2="317.80" y2="218.94" stroke="#121212" stroke-width="0.8"/>
<line x1="316.60" y1="215.59" x2="317.80" y2="215.59" stroke="#121212" stroke-width="0.8"/>
<line x1="316.60" y1="212.25" x2="317.80" y2="212.25" stroke="#121212" stroke-width="0.8"/>
<line x1="316.60" y1="208.90" x2="317.80" y2="208.90" stroke="#121212" stroke-width="0.8"/>
<line x1="315.40" y1="205.56" x2="317.80" y2="205.56" stroke="#121212" stroke-width="0.9"/>
<text x="314.20" y="206.96" font-size="3.9" font-weight="normal" text-anchor="end" fill="#111" stroke="#111" stroke-width="0.2" transform="rotate(#333 314.20 206.96)">40</text>
<line x1="316.60" y1="202.22" x2="317.80" y2="202.22" stroke="#121212" stroke-width="0.8"/>
<line x1="316.60" y1="198.87" x2="317.80" y2="198.87" stroke="#121212" stroke-width="0.8"/>
<line x1="316.60" y1="195.53" x2="317.80" y2="195.53" stroke="#121212" stroke-width="0.8"/>
<line x1="316.60" y1="192.18" x2="317.80" y2="192.18" stroke="#121212" stroke-width="0.8"/>
<line x1="315.40" y1="188.84" x2="317.80" y2="188.84" stroke="#121212" stroke-width="0.9"/>
<text x="314.20" y="190.24" font-size="3.9" font-weight="normal" text-anchor="end" fill="#111" stroke="#111" stroke-width="0.2" transform="rotate(#333 314.20 190.24)">60</text>
<line x1="316.60" y1="185.50" x2="317.80" y2="185.50" stroke="#121212" stroke-width="0.8"/>
<line x1="316.60" y1="182.15" x2="317.80" y2="182.15" stroke="#121212" stroke-width="0.8"/>
<line x1="316.60" y1="178.81" x2="317.80" y2="178.81" stroke="#121212" stroke-width="0.8"/>
<line x1="316.60" y1="175.46" x2="317.80" y2="175.46" stroke="#121212" stroke-width="0.8"/>
<line x1="315.40" y1="172.12" x2="317.80" y2="172.12" stroke="#121212" stroke-width="0.9"/>
<text x="314.20" y="173.52" font-size="3.9" font-weight="normal" text-anchor="end" fill="#111" stroke="#111" stroke-width="0.2" transform="rotate(#333 314.20 173.52)">80</text>
<line x1="316.60" y1="168.78" x2="317.80" y2="168.78" stroke="#121212" stroke-width="0.8"/>
<line x1="316.60" y1="165.43" x2="317.80" y2="165.43" stroke="#121212" stroke-width="0.8"/>
<line x1="316.60" y1="162.09" x2="317.80" y2="162.09" stroke="#121212" stroke-width="0.8"/>
<line x1="316.60" y1="158.74" x2="317.80" y2="158.74" stroke="#121212" stroke-width="0.8"/>
<line x1="315.40" y1="155.40" x2="317.80" y2="155.40" stroke="#121212" stroke-width="0.9"/>
<text x="314.20" y="156.80" font-size="3.9" font-weight="normal" text-anchor="end" fill="#111" stroke="#111" stroke-width="0.2" transform="rotate(#333 314.20 156.80)">100</text>
<text x="326.60" y="247.40" font-size="4.2" font-weight="normal" text-anchor="middle" fill="#111" stroke="#111" stroke-width="0.15" transform="rotate(#333 326.60 247.40)">0</text>
<text x="335.20" y="247.40" font-size="4.2" font-weight="normal" text-anchor="middle" fill="#111" stroke="#111" stroke-width="0.15" transform="rotate(#333 335.20 247.40)">10²</text>
<text x="356.50" y="247.40" font-size="4.2" font-weight="normal" text-anchor="middle" fill="#111" stroke="#111" stroke-width="0.15" transform="rotate(#333 356.50 247.40)">10³</text>
<text x="376.70" y="247.40" font-size="4.2" font-weight="normal" text-anchor="middle" fill="#111" stroke="#111" stroke-width="0.15" transform="rotate(#333 376.70 247.40)">10⁴</text>
<text x="395.40" y="247.40" font-size="4.2" font-weight="normal" text-anchor="middle" fill="#111" stroke="#111" stroke-width="0.15" transform="rotate(#333 395.40 247.40)">10⁵</text>
<line x1="326.60" y1="239.00" x2="326.60" y2="241.40" stroke="#121212" stroke-width="0.8"/>
<line x1="335.20" y1="239.00" x2="335.20" y2="241.40" stroke="#121212" stroke-width="0.8"/>
<line x1="356.50" y1="239.00" x2="356.50" y2="241.40" stroke="#121212" stroke-width="0.8"/>
<line x1="376.70" y1="239.00" x2="376.70" y2="241.40" stroke="#121212" stroke-width="0.8"/>
<line x1="395.40" y1="239.00" x2="395.40" y2="241.40" stroke="#121212" stroke-width="0.8"/>
<line x1="321.01" y1="239.00" x2="321.01" y2="241.00" stroke="#121212" stroke-width="0.8"/>
<line x1="324.59" y1="239.00" x2="324.59" y2="241.00" stroke="#121212" stroke-width="0.8"/>
<line x1="327.12" y1="239.00" x2="327.12" y2="241.00" stroke="#121212" stroke-width="0.8"/>
<line x1="329.09" y1="239.00" x2="329.09" y2="241.00" stroke="#121212" stroke-width="0.8"/>
<line x1="330.70" y1="239.00" x2="330.70" y2="241.00" stroke="#121212" stroke-width="0.8"/>
<line x1="332.06" y1="239.00" x2="332.06" y2="241.00" stroke="#121212" stroke-width="0.8"/>
<line x1="333.23" y1="239.00" x2="333.23" y2="241.00" stroke="#121212" stroke-width="0.8"/>
<line x1="334.27" y1="239.00" x2="334.27" y2="241.00" stroke="#121212" stroke-width="0.8"/>
<line x1="341.31" y1="239.00" x2="341.31" y2="241.00" stroke="#121212" stroke-width="0.8"/>
<line x1="344.89" y1="239.00" x2="344.89" y2="241.00" stroke="#121212" stroke-width="0.8"/>
<line x1="347.42" y1="239.00" x2="347.42" y2="241.00" stroke="#121212" stroke-width="0.8"/>
<line x1="349.39" y1="239.00" x2="349.39" y2="241.00" stroke="#121212" stroke-width="0.8"/>
<line x1="351.00" y1="239.00" x2="351.00" y2="241.00" stroke="#121212" stroke-width="0.8"/>
<line x1="352.36" y1="239.00" x2="352.36" y2="241.00" stroke="#121212" stroke-width="0.8"/>
<line x1="353.53" y1="239.00" x2="353.53" y2="241.00" stroke="#121212" stroke-width="0.8"/>
<line x1="354.57" y1="239.00" x2="354.57" y2="241.00" stroke="#121212" stroke-width="0.8"/>
<line x1="362.61" y1="239.00" x2="362.61" y2="241.00" stroke="#121212" stroke-width="0.8"/>
<line x1="366.19" y1="239.00" x2="366.19" y2="241.00" stroke="#121212" stroke-width="0.8"/>
<line x1="368.72" y1="239.00" x2="368.72" y2="241.00" stroke="#121212" stroke-width="0.8"/>
<line x1="370.69" y1="239.00" x2="370.69" y2="241.00" stroke="#121212" stroke-width="0.8"/>
<line x1="372.30" y1="239.00" x2="372.30" y2="241.00" stroke="#121212" stroke-width="0.8"/>
<line x1="373.66" y1="239.00" x2="373.66" y2="241.00" stroke="#121212" stroke-width="0.8"/>
<line x1="374.83" y1="239.00" x2="374.83" y2="241.00" stroke="#121212" stroke-width="0.8"/>
<line x1="375.87" y1="239.00" x2="375.87" y2="241.00" stroke="#121212" stroke-width="0.8"/>
<line x1="382.81" y1="239.00" x2="382.81" y2="241.00" stroke="#121212" stroke-width="0.8"/>
<line x1="386.39" y1="239.00" x2="386.39" y2="241.00" stroke="#121212" stroke-width="0.8"/>
<line x1="388.92" y1="239.00" x2="388.92" y2="241.00" stroke="#121212" stroke-width="0.8"/>
<line x1="390.89" y1="239.00" x2="390.89" y2="241.00" stroke="#121212" stroke-width="0.8"/>
<line x1="392.50" y1="239.00" x2="392.50" y2="241.00" stroke="#121212" stroke-width="0.8"/>
<line x1="393.86" y1="239.00" x2="393.86" y2="241.00" stroke="#121212" stroke-width="0.8"/>
<line x1="395.03" y1="239.00" x2="395.03" y2="241.00" stroke="#121212" stroke-width="0.8"/>
<line x1="396.07" y1="239.00" x2="396.07" y2="241.00" stroke="#121212" stroke-width="0.8"/>
<line x1="319.80" y1="239.00" x2="319.80" y2="241.00" stroke="#121212" stroke-width="0.8"/>
<line x1="321.60" y1="239.00" x2="321.60" y2="241.00" stroke="#121212" stroke-width="0.8"/>
<line x1="323.30" y1="239.00" x2="323.30" y2="241.00" stroke="#121212" stroke-width="0.8"/>
<line x1="325.00" y1="239.00" x2="325.00" y2="241.00" stroke="#121212" stroke-width="0.8"/>
<line x1="328.30" y1="239.00" x2="328.30" y2="241.00" stroke="#121212" stroke-width="0.8"/>
<line x1="330.00" y1="239.00" x2="330.00" y2="241.00" stroke="#121212" stroke-width="0.8"/>
<polygon points="318.5,239.0 318.8,238.0 319.8,232.3 322.7,226.5 326.5,218.8 330.4,212.1 332.8,202.5 334.2,190.0 336.5,181.0 338.1,176.0 340.5,168.0 342.9,157.6 344.8,167.2 346.2,176.8 348.2,188.0 349.6,196.0 350.4,205.0 350.6,218.8 351.5,231.3 352.5,238.0 352.8,239.0" fill="#ebebeb" stroke="none"/>
<polyline points="350.5,239.0 353.5,229.0 356.3,224.6 358.3,218.8 360.3,214.0 361.7,204.4 363.2,196.0 364.6,186.5 366.1,172.0 367.5,164.3 369.4,157.1 370.4,157.6 370.9,172.0 372.3,183.6 373.8,194.2 375.2,203.0 376.5,207.0 378.1,212.0 380.0,218.8 381.4,228.5 382.9,235.2 384.8,238.6 386.0,239.0" fill="none" stroke="#c8c8c8" stroke-width="1.3" stroke-linejoin="round"/>
<polyline points="318.2,234.2 318.8,238.6 324.0,238.8 330.0,238.6 336.2,238.6 340.0,237.6 343.8,236.2 347.7,235.2 351.5,234.2 353.5,233.3 355.4,231.3 356.9,231.8 358.3,229.4 359.3,229.9 361.2,227.5 363.2,225.6 365.1,220.8 366.5,216.0 368.0,213.1 369.9,208.3 370.9,199.6 371.8,189.3 372.8,176.8 372.8,171.1 374.2,167.2 375.2,157.1 376.6,167.2 378.1,176.8 379.5,179.7 380.0,188.4 381.0,199.6 382.4,209.2 383.8,218.8 385.8,223.7 387.7,228.5 389.6,233.3 392.0,237.1 394.4,238.6 396.3,239.0" fill="none" stroke="#111" stroke-width="1.4" stroke-linejoin="round"/>
<rect x="428.40" y="39.40" width="85.90" height="87.20" fill="none" stroke="#1e1e1e" stroke-width="1.0"/>
<line x1="426.00" y1="126.60" x2="428.40" y2="126.60" stroke="#121212" stroke-width="0.9"/>
<text x="424.80" y="128.00" font-size="3.9" font-weight="normal" text-anchor="end" fill="#111" stroke="#111" stroke-width="0.2" transform="rotate(#333 424.80 128.00)">0</text>
<line x1="427.20" y1="123.26" x2="428.40" y2="123.26" stroke="#121212" stroke-width="0.8"/>
<line x1="427.20" y1="119.92" x2="428.40" y2="119.92" stroke="#121212" stroke-width="0.8"/>
<line x1="427.20" y1="116.58" x2="428.40" y2="116.58" stroke="#121212" stroke-width="0.8"/>
<line x1="427.20" y1="113.24" x2="428.40" y2="113.24" stroke="#121212" stroke-width="0.8"/>
<line x1="426.00" y1="109.90" x2="428.40" y2="109.90" stroke="#121212" stroke-width="0.9"/>
<text x="424.80" y="111.30" font-size="3.9" font-weight="normal" text-anchor="end" fill="#111" stroke="#111" stroke-width="0.2" transform="rotate(#333 424.80 111.30)">20</text>
<line x1="427.20" y1="106.56" x2="428.40" y2="106.56" stroke="#121212" stroke-width="0.8"/>
<line x1="427.20" y1="103.22" x2="428.40" y2="103.22" stroke="#121212" stroke-width="0.8"/>
<line x1="427.20" y1="99.88" x2="428.40" y2="99.88" stroke="#121212" stroke-width="0.8"/>
<line x1="427.20" y1="96.54" x2="428.40" y2="96.54" stroke="#121212" stroke-width="0.8"/>
<line x1="426.00" y1="93.20" x2="428.40" y2="93.20" stroke="#121212" stroke-width="0.9"/>
<text x="424.80" y="94.60" font-size="3.9" font-weight="normal" text-anchor="end" fill="#111" stroke="#111" stroke-width="0.2" transform="rotate(#333 424.80 94.60)">40</text>
<line x1="427.20" y1="89.86" x2="428.40" y2="89.86" stroke="#121212" stroke-width="0.8"/>
<line x1="427.20" y1="86.52" x2="428.40" y2="86.52" stroke="#121212" stroke-width="0.8"/>
<line x1="427.20" y1="83.18" x2="428.40" y2="83.18" stroke="#121212" stroke-width="0.8"/>
<line x1="427.20" y1="79.84" x2="428.40" y2="79.84" stroke="#121212" stroke-width="0.8"/>
<line x1="426.00" y1="76.50" x2="428.40" y2="76.50" stroke="#121212" stroke-width="0.9"/>
<text x="424.80" y="77.90" font-size="3.9" font-weight="normal" text-anchor="end" fill="#111" stroke="#111" stroke-width="0.2" transform="rotate(#333 424.80 77.90)">60</text>
<line x1="427.20" y1="73.16" x2="428.40" y2="73.16" stroke="#121212" stroke-width="0.8"/>
<line x1="427.20" y1="69.82" x2="428.40" y2="69.82" stroke="#121212" stroke-width="0.8"/>
<line x1="427.20" y1="66.48" x2="428.40" y2="66.48" stroke="#121212" stroke-width="0.8"/>
<line x1="427.20" y1="63.14" x2="428.40" y2="63.14" stroke="#121212" stroke-width="0.8"/>
<line x1="426.00" y1="59.80" x2="428.40" y2="59.80" stroke="#121212" stroke-width="0.9"/>
<text x="424.80" y="61.20" font-size="3.9" font-weight="normal" text-anchor="end" fill="#111" stroke="#111" stroke-width="0.2" transform="rotate(#333 424.80 61.20)">80</text>
<line x1="427.20" y1="56.46" x2="428.40" y2="56.46" stroke="#121212" stroke-width="0.8"/>
<line x1="427.20" y1="53.12" x2="428.40" y2="53.12" stroke="#121212" stroke-width="0.8"/>
<line x1="427.20" y1="49.78" x2="428.40" y2="49.78" stroke="#121212" stroke-width="0.8"/>
<line x1="427.20" y1="46.44" x2="428.40" y2="46.44" stroke="#121212" stroke-width="0.8"/>
<line x1="426.00" y1="43.10" x2="428.40" y2="43.10" stroke="#121212" stroke-width="0.9"/>
<text x="424.80" y="44.50" font-size="3.9" font-weight="normal" text-anchor="end" fill="#111" stroke="#111" stroke-width="0.2" transform="rotate(#333 424.80 44.50)">100</text>
<text x="437.20" y="135.00" font-size="4.2" font-weight="normal" text-anchor="middle" fill="#111" stroke="#111" stroke-width="0.15" transform="rotate(#333 437.20 135.00)">0</text>
<text x="445.80" y="135.00" font-size="4.2" font-weight="normal" text-anchor="middle" fill="#111" stroke="#111" stroke-width="0.15" transform="rotate(#333 445.80 135.00)">10²</text>
<text x="467.10" y="135.00" font-size="4.2" font-weight="normal" text-anchor="middle" fill="#111" stroke="#111" stroke-width="0.15" transform="rotate(#333 467.10 135.00)">10³</text>
<text x="487.30" y="135.00" font-size="4.2" font-weight="normal" text-anchor="middle" fill="#111" stroke="#111" stroke-width="0.15" transform="rotate(#333 487.30 135.00)">10⁴</text>
<text x="506.00" y="135.00" font-size="4.2" font-weight="normal" text-anchor="middle" fill="#111" stroke="#111" stroke-width="0.15" transform="rotate(#333 506.00 135.00)">10⁵</text>
<line x1="437.20" y1="126.60" x2="437.20" y2="129.00" stroke="#121212" stroke-width="0.8"/>
<line x1="445.80" y1="126.60" x2="445.80" y2="129.00" stroke="#121212" stroke-width="0.8"/>
<line x1="467.10" y1="126.60" x2="467.10" y2="129.00" stroke="#121212" stroke-width="0.8"/>
<line x1="487.30" y1="126.60" x2="487.30" y2="129.00" stroke="#121212" stroke-width="0.8"/>
<line x1="506.00" y1="126.60" x2="506.00" y2="129.00" stroke="#121212" stroke-width="0.8"/>
<line x1="431.61" y1="126.60" x2="431.61" y2="128.60" stroke="#121212" stroke-width="0.8"/>
<line x1="435.19" y1="126.60" x2="435.19" y2="128.60" stroke="#121212" stroke-width="0.8"/>
<line x1="437.72" y1="126.60" x2="437.72" y2="128.60" stroke="#121212" stroke-width="0.8"/>
<line x1="439.69" y1="126.60" x2="439.69" y2="128.60" stroke="#121212" stroke-width="0.8"/>
<line x1="441.30" y1="126.60" x2="441.30" y2="128.60" stroke="#121212" stroke-width="0.8"/>
<line x1="442.66" y1="126.60" x2="442.66" y2="128.60" stroke="#121212" stroke-width="0.8"/>
<line x1="443.83" y1="126.60" x2="443.83" y2="128.60" stroke="#121212" stroke-width="0.8"/>
<line x1="444.87" y1="126.60" x2="444.87" y2="128.60" stroke="#121212" stroke-width="0.8"/>
<line x1="451.91" y1="126.60" x2="451.91" y2="128.60" stroke="#121212" stroke-width="0.8"/>
<line x1="455.49" y1="126.60" x2="455.49" y2="128.60" stroke="#121212" stroke-width="0.8"/>
<line x1="458.02" y1="126.60" x2="458.02" y2="128.60" stroke="#121212" stroke-width="0.8"/>
<line x1="459.99" y1="126.60" x2="459.99" y2="128.60" stroke="#121212" stroke-width="0.8"/>
<line x1="461.60" y1="126.60" x2="461.60" y2="128.60" stroke="#121212" stroke-width="0.8"/>
<line x1="462.96" y1="126.60" x2="462.96" y2="128.60" stroke="#121212" stroke-width="0.8"/>
<line x1="464.13" y1="126.60" x2="464.13" y2="128.60" stroke="#121212" stroke-width="0.8"/>
<line x1="465.17" y1="126.60" x2="465.17" y2="128.60" stroke="#121212" stroke-width="0.8"/>
<line x1="473.21" y1="126.60" x2="473.21" y2="128.60" stroke="#121212" stroke-width="0.8"/>
<line x1="476.79" y1="126.60" x2="476.79" y2="128.60" stroke="#121212" stroke-width="0.8"/>
<line x1="479.32" y1="126.60" x2="479.32" y2="128.60" stroke="#121212" stroke-width="0.8"/>
<line x1="481.29" y1="126.60" x2="481.29" y2="128.60" stroke="#121212" stroke-width="0.8"/>
<line x1="482.90" y1="126.60" x2="482.90" y2="128.60" stroke="#121212" stroke-width="0.8"/>
<line x1="484.26" y1="126.60" x2="484.26" y2="128.60" stroke="#121212" stroke-width="0.8"/>
<line x1="485.43" y1="126.60" x2="485.43" y2="128.60" stroke="#121212" stroke-width="0.8"/>
<line x1="486.47" y1="126.60" x2="486.47" y2="128.60" stroke="#121212" stroke-width="0.8"/>
<line x1="493.41" y1="126.60" x2="493.41" y2="128.60" stroke="#121212" stroke-width="0.8"/>
<line x1="496.99" y1="126.60" x2="496.99" y2="128.60" stroke="#121212" stroke-width="0.8"/>
<line x1="499.52" y1="126.60" x2="499.52" y2="128.60" stroke="#121212" stroke-width="0.8"/>
<line x1="501.49" y1="126.60" x2="501.49" y2="128.60" stroke="#121212" stroke-width="0.8"/>
<line x1="503.10" y1="126.60" x2="503.10" y2="128.60" stroke="#121212" stroke-width="0.8"/>
<line x1="504.46" y1="126.60" x2="504.46" y2="128.60" stroke="#121212" stroke-width="0.8"/>
<line x1="505.63" y1="126.60" x2="505.63" y2="128.60" stroke="#121212" stroke-width="0.8"/>
<line x1="506.67" y1="126.60" x2="506.67" y2="128.60" stroke="#121212" stroke-width="0.8"/>
<line x1="430.40" y1="126.60" x2="430.40" y2="128.60" stroke="#121212" stroke-width="0.8"/>
<line x1="432.20" y1="126.60" x2="432.20" y2="128.60" stroke="#121212" stroke-width="0.8"/>
<line x1="433.90" y1="126.60" x2="433.90" y2="128.60" stroke="#121212" stroke-width="0.8"/>
<line x1="435.60" y1="126.60" x2="435.60" y2="128.60" stroke="#121212" stroke-width="0.8"/>
<line x1="438.90" y1="126.60" x2="438.90" y2="128.60" stroke="#121212" stroke-width="0.8"/>
<line x1="440.60" y1="126.60" x2="440.60" y2="128.60" stroke="#121212" stroke-width="0.8"/>
<polygon points="428.9,126.6 429.3,100.0 429.8,66.8 430.8,45.7 436.0,46.5 441.3,45.7 446.0,46.5 448.0,47.6 449.5,66.8 450.5,86.0 451.4,97.6 451.0,99.2 450.5,106.9 450.0,115.0 449.0,122.0 448.0,126.6" fill="#ebebeb" stroke="none"/>
<polyline points="444.2,125.2 448.0,122.3 451.0,119.4 453.8,118.5 456.7,117.5 458.6,115.6 460.6,110.8 462.0,104.0 463.5,99.2 465.4,96.3 466.8,89.6 468.3,84.8 469.7,76.5 471.2,64.9 473.1,57.2 474.5,54.0 475.5,56.0 476.5,62.0 477.5,72.0 478.3,80.0 479.5,88.0 480.8,97.0 482.0,106.0 483.2,113.0 484.8,119.0 486.5,123.5 488.5,126.0 490.0,126.6" fill="none" stroke="#c8c8c8" stroke-width="1.3" stroke-linejoin="round"/>
<polyline points="428.6,123.8 429.8,125.2 432.2,125.2 434.6,123.8 437.5,121.8 439.4,121.3 441.3,120.4 442.8,119.4 444.2,116.1 445.7,115.6 447.6,113.7 449.0,109.8 450.5,107.9 451.9,102.1 452.9,98.3 454.3,97.3 455.8,92.5 457.2,88.7 458.2,89.6 459.6,87.7 461.0,85.8 462.5,82.9 463.5,80.5 463.9,79.3 464.9,74.5 465.9,68.8 466.4,67.8 467.9,70.7 469.3,65.9 470.3,55.3 471.2,61.1 472.7,55.3 473.6,57.2 474.6,63.0 475.6,55.3 476.3,44.7 477.0,55.3 477.7,62.0 478.3,71.6 478.6,79.3 479.9,82.2 480.4,89.6 481.8,99.2 482.8,106.9 483.8,113.7 485.2,118.5 486.6,122.8 488.1,124.7 490.0,125.2 492.9,126.2 494.8,126.6" fill="none" stroke="#111" stroke-width="1.4" stroke-linejoin="round"/>
<rect x="428.40" y="151.70" width="85.90" height="87.30" fill="none" stroke="#1e1e1e" stroke-width="1.0"/>
<line x1="426.00" y1="239.00" x2="428.40" y2="239.00" stroke="#121212" stroke-width="0.9"/>
<text x="424.80" y="240.40" font-size="3.9" font-weight="normal" text-anchor="end" fill="#111" stroke="#111" stroke-width="0.2" transform="rotate(#333 424.80 240.40)">0</text>
<line x1="427.20" y1="235.66" x2="428.40" y2="235.66" stroke="#121212" stroke-width="0.8"/>
<line x1="427.20" y1="232.31" x2="428.40" y2="232.31" stroke="#121212" stroke-width="0.8"/>
<line x1="427.20" y1="228.97" x2="428.40" y2="228.97" stroke="#121212" stroke-width="0.8"/>
<line x1="427.20" y1="225.62" x2="428.40" y2="225.62" stroke="#121212" stroke-width="0.8"/>
<line x1="426.00" y1="222.28" x2="428.40" y2="222.28" stroke="#121212" stroke-width="0.9"/>
<text x="424.80" y="223.68" font-size="3.9" font-weight="normal" text-anchor="end" fill="#111" stroke="#111" stroke-width="0.2" transform="rotate(#333 424.80 223.68)">20</text>
<line x1="427.20" y1="218.94" x2="428.40" y2="218.94" stroke="#121212" stroke-width="0.8"/>
<line x1="427.20" y1="215.59" x2="428.40" y2="215.59" stroke="#121212" stroke-width="0.8"/>
<line x1="427.20" y1="212.25" x2="428.40" y2="212.25" stroke="#121212" stroke-width="0.8"/>
<line x1="427.20" y1="208.90" x2="428.40" y2="208.90" stroke="#121212" stroke-width="0.8"/>
<line x1="426.00" y1="205.56" x2="428.40" y2="205.56" stroke="#121212" stroke-width="0.9"/>
<text x="424.80" y="206.96" font-size="3.9" font-weight="normal" text-anchor="end" fill="#111" stroke="#111" stroke-width="0.2" transform="rotate(#333 424.80 206.96)">40</text>
<line x1="427.20" y1="202.22" x2="428.40" y2="202.22" stroke="#121212" stroke-width="0.8"/>
<line x1="427.20" y1="198.87" x2="428.40" y2="198.87" stroke="#121212" stroke-width="0.8"/>
<line x1="427.20" y1="195.53" x2="428.40" y2="195.53" stroke="#121212" stroke-width="0.8"/>
<line x1="427.20" y1="192.18" x2="428.40" y2="192.18" stroke="#121212" stroke-width="0.8"/>
<line x1="426.00" y1="188.84" x2="428.40" y2="188.84" stroke="#121212" stroke-width="0.9"/>
<text x="424.80" y="190.24" font-size="3.9" font-weight="normal" text-anchor="end" fill="#111" stroke="#111" stroke-width="0.2" transform="rotate(#333 424.80 190.24)">60</text>
<line x1="427.20" y1="185.50" x2="428.40" y2="185.50" stroke="#121212" stroke-width="0.8"/>
<line x1="427.20" y1="182.15" x2="428.40" y2="182.15" stroke="#121212" stroke-width="0.8"/>
<line x1="427.20" y1="178.81" x2="428.40" y2="178.81" stroke="#121212" stroke-width="0.8"/>
<line x1="427.20" y1="175.46" x2="428.40" y2="175.46" stroke="#121212" stroke-width="0.8"/>
<line x1="426.00" y1="172.12" x2="428.40" y2="172.12" stroke="#121212" stroke-width="0.9"/>
<text x="424.80" y="173.52" font-size="3.9" font-weight="normal" text-anchor="end" fill="#111" stroke="#111" stroke-width="0.2" transform="rotate(#333 424.80 173.52)">80</text>
<line x1="427.20" y1="168.78" x2="428.40" y2="168.78" stroke="#121212" stroke-width="0.8"/>
<line x1="427.20" y1="165.43" x2="428.40" y2="165.43" stroke="#121212" stroke-width="0.8"/>
<line x1="427.20" y1="162.09" x2="428.40" y2="162.09" stroke="#121212" stroke-width="0.8"/>
<line x1="427.20" y1="158.74" x2="428.40" y2="158.74" stroke="#121212" stroke-width="0.8"/>
<line x1="426.00" y1="155.40" x2="428.40" y2="155.40" stroke="#121212" stroke-width="0.9"/>
<text x="424.80" y="156.80" font-size="3.9" font-weight="normal" text-anchor="end" fill="#111" stroke="#111" stroke-width="0.2" transform="rotate(#333 424.80 156.80)">100</text>
<text x="437.20" y="247.40" font-size="4.2" font-weight="normal" text-anchor="middle" fill="#111" stroke="#111" stroke-width="0.15" transform="rotate(#333 437.20 247.40)">0</text>
<text x="445.80" y="247.40" font-size="4.2" font-weight="normal" text-anchor="middle" fill="#111" stroke="#111" stroke-width="0.15" transform="rotate(#333 445.80 247.40)">10²</text>
<text x="467.10" y="247.40" font-size="4.2" font-weight="normal" text-anchor="middle" fill="#111" stroke="#111" stroke-width="0.15" transform="rotate(#333 467.10 247.40)">10³</text>
<text x="487.30" y="247.40" font-size="4.2" font-weight="normal" text-anchor="middle" fill="#111" stroke="#111" stroke-width="0.15" transform="rotate(#333 487.30 247.40)">10⁴</text>
<text x="506.00" y="247.40" font-size="4.2" font-weight="normal" text-anchor="middle" fill="#111" stroke="#111" stroke-width="0.15" transform="rotate(#333 506.00 247.40)">10⁵</text>
<line x1="437.20" y1="239.00" x2="437.20" y2="241.40" stroke="#121212" stroke-width="0.8"/>
<line x1="445.80" y1="239.00" x2="445.80" y2="241.40" stroke="#121212" stroke-width="0.8"/>
<line x1="467.10" y1="239.00" x2="467.10" y2="241.40" stroke="#121212" stroke-width="0.8"/>
<line x1="487.30" y1="239.00" x2="487.30" y2="241.40" stroke="#121212" stroke-width="0.8"/>
<line x1="506.00" y1="239.00" x2="506.00" y2="241.40" stroke="#121212" stroke-width="0.8"/>
<line x1="431.61" y1="239.00" x2="431.61" y2="241.00" stroke="#121212" stroke-width="0.8"/>
<line x1="435.19" y1="239.00" x2="435.19" y2="241.00" stroke="#121212" stroke-width="0.8"/>
<line x1="437.72" y1="239.00" x2="437.72" y2="241.00" stroke="#121212" stroke-width="0.8"/>
<line x1="439.69" y1="239.00" x2="439.69" y2="241.00" stroke="#121212" stroke-width="0.8"/>
<line x1="441.30" y1="239.00" x2="441.30" y2="241.00" stroke="#121212" stroke-width="0.8"/>
<line x1="442.66" y1="239.00" x2="442.66" y2="241.00" stroke="#121212" stroke-width="0.8"/>
<line x1="443.83" y1="239.00" x2="443.83" y2="241.00" stroke="#121212" stroke-width="0.8"/>
<line x1="444.87" y1="239.00" x2="444.87" y2="241.00" stroke="#121212" stroke-width="0.8"/>
<line x1="451.91" y1="239.00" x2="451.91" y2="241.00" stroke="#121212" stroke-width="0.8"/>
<line x1="455.49" y1="239.00" x2="455.49" y2="241.00" stroke="#121212" stroke-width="0.8"/>
<line x1="458.02" y1="239.00" x2="458.02" y2="241.00" stroke="#121212" stroke-width="0.8"/>
<line x1="459.99" y1="239.00" x2="459.99" y2="241.00" stroke="#121212" stroke-width="0.8"/>
<line x1="461.60" y1="239.00" x2="461.60" y2="241.00" stroke="#121212" stroke-width="0.8"/>
<line x1="462.96" y1="239.00" x2="462.96" y2="241.00" stroke="#121212" stroke-width="0.8"/>
<line x1="464.13" y1="239.00" x2="464.13" y2="241.00" stroke="#121212" stroke-width="0.8"/>
<line x1="465.17" y1="239.00" x2="465.17" y2="241.00" stroke="#121212" stroke-width="0.8"/>
<line x1="473.21" y1="239.00" x2="473.21" y2="241.00" stroke="#121212" stroke-width="0.8"/>
<line x1="476.79" y1="239.00" x2="476.79" y2="241.00" stroke="#121212" stroke-width="0.8"/>
<line x1="479.32" y1="239.00" x2="479.32" y2="241.00" stroke="#121212" stroke-width="0.8"/>
<line x1="481.29" y1="239.00" x2="481.29" y2="241.00" stroke="#121212" stroke-width="0.8"/>
<line x1="482.90" y1="239.00" x2="482.90" y2="241.00" stroke="#121212" stroke-width="0.8"/>
<line x1="484.26" y1="239.00" x2="484.26" y2="241.00" stroke="#121212" stroke-width="0.8"/>
<line x1="485.43" y1="239.00" x2="485.43" y2="241.00" stroke="#121212" stroke-width="0.8"/>
<line x1="486.47" y1="239.00" x2="486.47" y2="241.00" stroke="#121212" stroke-width="0.8"/>
<line x1="493.41" y1="239.00" x2="493.41" y2="241.00" stroke="#121212" stroke-width="0.8"/>
<line x1="496.99" y1="239.00" x2="496.99" y2="241.00" stroke="#121212" stroke-width="0.8"/>
<line x1="499.52" y1="239.00" x2="499.52" y2="241.00" stroke="#121212" stroke-width="0.8"/>
<line x1="501.49" y1="239.00" x2="501.49" y2="241.00" stroke="#121212" stroke-width="0.8"/>
<line x1="503.10" y1="239.00" x2="503.10" y2="241.00" stroke="#121212" stroke-width="0.8"/>
<line x1="504.46" y1="239.00" x2="504.46" y2="241.00" stroke="#121212" stroke-width="0.8"/>
<line x1="505.63" y1="239.00" x2="505.63" y2="241.00" stroke="#121212" stroke-width="0.8"/>
<line x1="506.67" y1="239.00" x2="506.67" y2="241.00" stroke="#121212" stroke-width="0.8"/>
<line x1="430.40" y1="239.00" x2="430.40" y2="241.00" stroke="#121212" stroke-width="0.8"/>
<line x1="432.20" y1="239.00" x2="432.20" y2="241.00" stroke="#121212" stroke-width="0.8"/>
<line x1="433.90" y1="239.00" x2="433.90" y2="241.00" stroke="#121212" stroke-width="0.8"/>
<line x1="435.60" y1="239.00" x2="435.60" y2="241.00" stroke="#121212" stroke-width="0.8"/>
<line x1="438.90" y1="239.00" x2="438.90" y2="241.00" stroke="#121212" stroke-width="0.8"/>
<line x1="440.60" y1="239.00" x2="440.60" y2="241.00" stroke="#121212" stroke-width="0.8"/>
<polygon points="429.3,239.0 429.3,230.4 430.8,226.5 433.7,221.7 437.5,216.9 440.4,209.2 443.3,199.6 444.5,193.0 445.7,187.0 447.6,180.0 448.6,176.8 451.0,167.2 453.4,156.2 454.8,162.4 455.8,176.8 456.7,189.0 458.2,198.0 459.3,206.0 460.1,212.0 461.1,218.8 462.0,230.4 463.0,238.6 463.2,239.0" fill="#ebebeb" stroke="none"/>
<polyline points="428.6,239.0 465.0,239.0 468.8,238.6 471.2,237.6 473.2,236.6 475.6,237.1 478.0,236.6 479.9,233.3 481.3,228.5 482.3,224.6 483.3,221.7 484.7,214.0 485.4,207.6 486.2,199.6 486.6,196.0 487.6,186.5 488.6,176.8 489.5,167.2 490.5,157.1 491.4,166.3 492.9,172.0 493.8,181.7 494.3,191.3 494.8,199.6 495.3,200.9 496.2,209.2 497.7,218.8 499.1,226.5 500.6,232.3 502.5,235.7 504.4,237.1 506.3,238.6 507.3,239.0" fill="none" stroke="#111" stroke-width="1.4" stroke-linejoin="round"/>
</svg>
</body></html>
